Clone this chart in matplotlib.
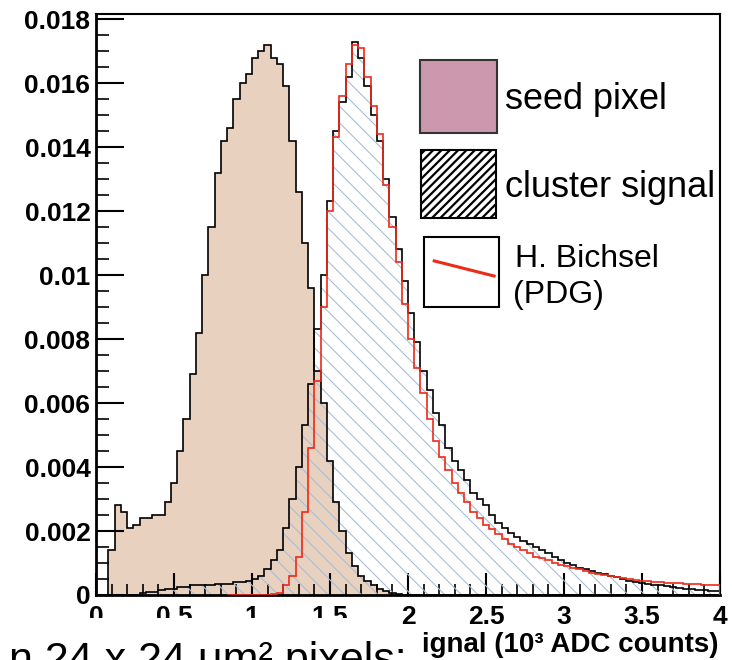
import numpy as np
import matplotlib
matplotlib.use("Agg")
import matplotlib.pyplot as plt
from matplotlib.patches import Rectangle
from matplotlib.lines import Line2D
from matplotlib.ticker import MultipleLocator, FuncFormatter

# histogram bins: 0.04 wide from 0 to 4 (10^3 ADC counts)
bin_width = 0.04
n_bins = 100

# values in units of 1e-3 (normalised entries per bin)
seed_pixel = [
    0, 0, 1.4, 2.8, 2.6, 2.1, 2.2, 2.4, 2.4, 2.5,
    2.5, 2.9, 3.5, 4.5, 5.5, 6.9, 8.2, 10.0, 11.5, 13.2,
    14.2, 14.6, 15.5, 16.0, 16.3, 16.8, 17.0, 17.2, 16.8, 16.6,
    15.9, 14.2, 12.6, 11.0, 9.6, 7.0, 6.0, 4.2, 2.9, 2.0,
    1.3, 0.9, 0.6, 0.45, 0.3, 0.2, 0.12, 0.07, 0.03, 0,
] + [0] * 50

cluster_signal = [
    0, 0, 0, 0, 0, 0, 0, 0.05, 0.08, 0.1,
    0.15, 0.2, 0.2, 0.25, 0.25, 0.3, 0.3, 0.3, 0.3, 0.35,
    0.35, 0.35, 0.4, 0.4, 0.45, 0.5, 0.6, 0.8, 1.1, 1.4,
    2.1, 3.0, 4.0, 5.3, 6.6, 8.3, 10.0, 12.3, 14.5, 15.4,
    16.2, 17.3, 16.8, 15.9, 15.0, 14.2, 13.0, 11.8, 10.8, 9.8,
    8.8, 7.9, 7.0, 6.4, 5.7, 5.3, 4.6, 4.2, 3.9, 3.6,
    3.2, 3.0, 2.8, 2.5, 2.25, 2.1, 1.95, 1.8, 1.7, 1.6,
    1.5, 1.4, 1.3, 1.2, 1.1, 1.0, 0.95, 0.85, 0.8, 0.75,
    0.7, 0.65, 0.6, 0.55, 0.5, 0.45, 0.4, 0.38, 0.35, 0.32,
    0.3, 0.27, 0.25, 0.22, 0.2, 0.18, 0.16, 0.15, 0.13, 0.12,
]

# H. Bichsel (PDG) prediction, starts at 0.84
bichsel_start = 0.84
bichsel = [
    0, 0, 0, 0, 0, 0, 0, 0.02, 0.05, 0.3,
    0.6, 1.2, 2.6, 4.6, 6.7, 9.0, 12.0, 14.3, 15.6, 16.6,
    17.2, 17.1, 16.2, 15.3, 14.4, 12.8, 11.5, 10.4, 9.1, 8.0,
    7.1, 6.3, 5.5, 4.8, 4.3, 3.9, 3.5, 3.2, 2.9, 2.6,
    2.4, 2.2, 2.05, 1.9, 1.75, 1.6, 1.5, 1.4, 1.3, 1.2,
    1.15, 1.08, 1.0, 0.95, 0.9, 0.85, 0.8, 0.75, 0.7, 0.65,
    0.62, 0.58, 0.55, 0.52, 0.49, 0.47, 0.45, 0.43, 0.41, 0.4,
    0.38, 0.37, 0.36, 0.35, 0.34, 0.33, 0.32, 0.31, 0.3,
]

legend_labels = ["seed pixel", "cluster signal", "H. Bichsel", "(PDG)"]
x_label = "ignal (10\u00b3 ADC counts)"
bottom_note = "n 24 x 24 \u03bcm\u00b2 pixels:"

SEED_FILL = "#e9d1c0"
HATCH_BLUE = "#a9bfd6"
RED = "#ee2a18"
LEGEND_SEED = "#cc98ae"

plt.rcParams["font.family"] = ["Liberation Sans", "DejaVu Sans"]
plt.rcParams["hatch.linewidth"] = 0.8

edges = np.round(np.arange(n_bins + 1) * bin_width, 4)
seed = np.array(seed_pixel) * 1e-3
cluster = np.array(cluster_signal) * 1e-3
bich = np.array(bichsel) * 1e-3
bich_edges = np.round(bichsel_start + np.arange(len(bich) + 1) * bin_width, 4)

fig = plt.figure(figsize=(7.32, 6.6), dpi=100)
ax = fig.add_axes([96 / 732, 65 / 660, 624 / 732, 581 / 660])

ax.stairs(seed, edges, fill=True, color=SEED_FILL, linewidth=0, zorder=1)
ax.stairs(cluster, edges, fill=True, facecolor="none", edgecolor=HATCH_BLUE,
          hatch="\\\\", linewidth=0, zorder=2)
ax.stairs(seed, edges, color="black", linewidth=1.2, zorder=3)
ax.stairs(cluster, edges, color="black", linewidth=1.2, zorder=3)
ax.stairs(bich, bich_edges, color=RED, linewidth=1.2, zorder=4)

ax.set_xlim(0, 4)
ax.set_ylim(0, 0.01816)

ax.xaxis.set_major_locator(MultipleLocator(0.5))
ax.xaxis.set_minor_locator(MultipleLocator(0.1))
ax.yaxis.set_major_locator(MultipleLocator(0.002))
ax.yaxis.set_minor_locator(MultipleLocator(0.0005))
ax.xaxis.set_major_formatter(FuncFormatter(lambda v, p: f"{v:g}"))
ax.yaxis.set_major_formatter(FuncFormatter(lambda v, p: f"{round(v, 4):g}"))

ax.tick_params(axis="both", which="both", direction="in", top=False, right=False)
ax.tick_params(axis="y", which="major", length=20, width=1.5, pad=4)
ax.tick_params(axis="y", which="minor", length=9, width=1.2)
ax.tick_params(axis="x", which="major", length=16, width=1.5, pad=7)
ax.tick_params(axis="x", which="minor", length=8, width=1.2)
for lab in ax.get_xticklabels() + ax.get_yticklabels():
    lab.set_fontsize(19)
    lab.set_fontweight("bold")

for side in ["left", "bottom"]:
    ax.spines[side].set_linewidth(2.0)
for side in ["top", "right"]:
    ax.spines[side].set_linewidth(1.5)

# legend, drawn by hand in axes coordinates
tr = ax.transAxes
ax.add_patch(Rectangle((0.519, 0.795), 0.124, 0.126, transform=tr,
                       facecolor=LEGEND_SEED, edgecolor="#333333", lw=1.5, zorder=6))
with plt.rc_context({"hatch.linewidth": 1.6}):
    ax.add_patch(Rectangle((0.521, 0.649), 0.12, 0.117, transform=tr,
                           facecolor="white", edgecolor="black", hatch="////",
                           lw=1.5, zorder=6))
ax.add_patch(Rectangle((0.526, 0.496), 0.12, 0.12, transform=tr,
                       facecolor="white", edgecolor="black", lw=1.5, zorder=6))
ax.add_line(Line2D([0.542, 0.638], [0.575, 0.549], transform=tr,
                   color=RED, lw=2.2, zorder=7))
ax.text(0.655, 0.836, legend_labels[0], transform=tr, fontsize=26,
        va="baseline", zorder=7)
ax.text(0.655, 0.685, legend_labels[1], transform=tr, fontsize=26,
        va="baseline", zorder=7)
ax.text(0.672, 0.565, legend_labels[2], transform=tr, fontsize=23,
        va="baseline", zorder=7)
ax.text(0.668, 0.502, legend_labels[3], transform=tr, fontsize=23,
        va="baseline", zorder=7)

# cropped caption strip along the bottom
fig.patches.append(Rectangle((0, 0), 395 / 732, 42 / 660, transform=fig.transFigure,
                             facecolor="white", edgecolor="none", zorder=5))
fig.text(407 / 732, -12 / 660, bottom_note, ha="right", va="baseline",
         fontsize=31, zorder=6)
fig.text(718 / 732, 8 / 660, x_label, ha="right", va="baseline",
         fontsize=20, fontweight="bold")

fig.savefig("out.png", dpi=100)
